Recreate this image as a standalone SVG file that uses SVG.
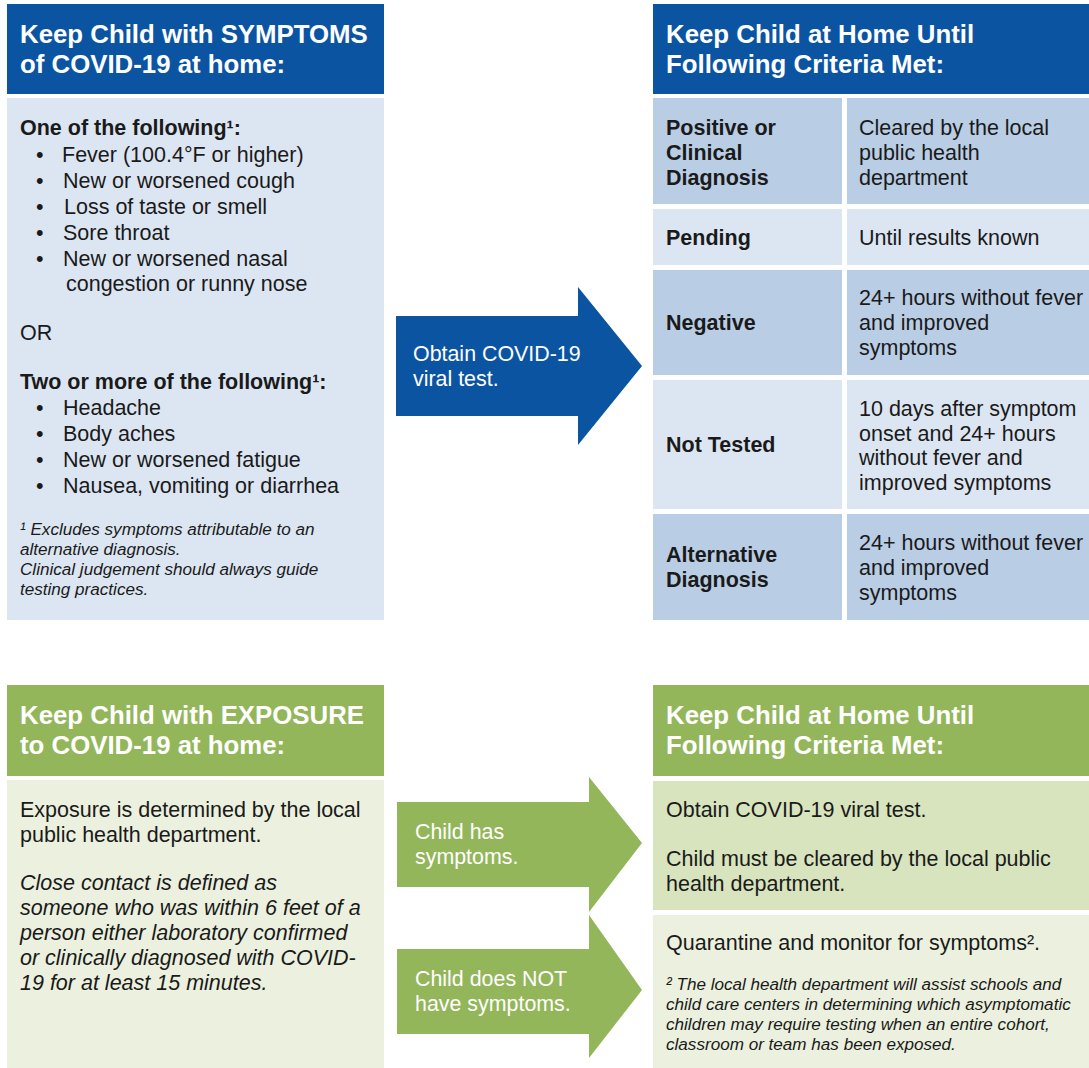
<svg xmlns="http://www.w3.org/2000/svg" width="1089" height="1068" viewBox="0 0 1089 1068">
<style>
text{font-family:"Liberation Sans",Arial,sans-serif;fill:#1a1a1a;font-size:21.5px}
.h{fill:#fff;font-weight:bold;font-size:25.8px}
.b{font-weight:bold}
.i{font-style:italic}
.fn{font-style:italic;font-size:17.1px}
.fn2{font-style:italic;font-size:17.1px}
.w{fill:#fff;font-size:21.4px}
.blue{fill:#0b54a2}
.green{fill:#93b65a}
.lb{fill:#dce6f2}
.db{fill:#b9cde5}
.lg{fill:#ebf1de}
.dg{fill:#d7e4bd}
</style>
<rect width="1089" height="1068" fill="#fff"/>

<g id="symptoms">
<rect class="blue" x="7" y="4" width="377" height="90"/>
<text class="h" x="20" y="43">Keep Child with SYMPTOMS</text>
<text class="h" x="20" y="73">of COVID-19 at home:</text>
<rect class="lb" x="7" y="98" width="377" height="522"/>
<text class="b" x="20" y="135">One of the following¹:</text>
<text x="36" y="162">•</text><text x="62" y="162">Fever (100.4°F or higher)</text>
<text x="36" y="188">•</text><text x="63" y="188">New or worsened cough</text>
<text x="36" y="214">•</text><text x="64" y="214">Loss of taste or smell</text>
<text x="36" y="240">•</text><text x="63" y="240">Sore throat</text>
<text x="36" y="266">•</text><text x="63" y="266">New or worsened nasal</text>
<text x="66" y="291">congestion or runny nose</text>
<text x="20" y="340">OR</text>
<text class="b" x="20" y="389">Two or more of the following¹:</text>
<text x="36" y="415">•</text><text x="63" y="415">Headache</text>
<text x="36" y="441">•</text><text x="63" y="441">Body aches</text>
<text x="36" y="467">•</text><text x="63" y="467">New or worsened fatigue</text>
<text x="36" y="493">•</text><text x="63" y="493">Nausea, vomiting or diarrhea</text>
<text class="fn" x="20" y="535">¹ Excludes symptoms attributable to an</text>
<text class="fn" x="20" y="555">alternative diagnosis.</text>
<text class="fn" x="20" y="575">Clinical judgement should always guide</text>
<text class="fn" x="20" y="595">testing practices.</text>
</g>

<g id="criteria-symptoms">
<rect class="blue" x="653" y="4" width="436" height="90"/>
<text class="h" x="666" y="43">Keep Child at Home Until</text>
<text class="h" x="666" y="73">Following Criteria Met:</text>
<rect class="db" x="653" y="98" width="189" height="106"/>
<rect class="db" x="847" y="98" width="242" height="106"/>
<rect class="lb" x="653" y="209" width="189" height="56"/>
<rect class="lb" x="847" y="209" width="242" height="56"/>
<rect class="db" x="653" y="270" width="189" height="105"/>
<rect class="db" x="847" y="270" width="242" height="105"/>
<rect class="lb" x="653" y="380" width="189" height="129"/>
<rect class="lb" x="847" y="380" width="242" height="129"/>
<rect class="db" x="653" y="514" width="189" height="106"/>
<rect class="db" x="847" y="514" width="242" height="106"/>
<text class="b" x="666" y="135">Positive or</text>
<text class="b" x="666" y="160">Clinical</text>
<text class="b" x="666" y="185">Diagnosis</text>
<text x="859" y="135">Cleared by the local</text>
<text x="859" y="160">public health</text>
<text x="859" y="185">department</text>
<text class="b" x="666" y="245">Pending</text>
<text x="859" y="245">Until results known</text>
<text class="b" x="666" y="330">Negative</text>
<text x="859" y="305">24+ hours without fever</text>
<text x="859" y="330">and improved</text>
<text x="859" y="355">symptoms</text>
<text class="b" x="666" y="452">Not Tested</text>
<text x="859" y="416">10 days after symptom</text>
<text x="859" y="441">onset and 24+ hours</text>
<text x="859" y="465">without fever and</text>
<text x="859" y="490">improved symptoms</text>
<text class="b" x="666" y="562">Alternative</text>
<text class="b" x="666" y="587">Diagnosis</text>
<text x="859" y="550">24+ hours without fever</text>
<text x="859" y="575">and improved</text>
<text x="859" y="600">symptoms</text>
</g>

<g id="exposure">
<rect class="green" x="7" y="685" width="377" height="91"/>
<text class="h" x="20" y="724">Keep Child with EXPOSURE</text>
<text class="h" x="20" y="754">to COVID-19 at home:</text>
<rect class="lg" x="7" y="780" width="377" height="288"/>
<text x="20" y="817">Exposure is determined by the local</text>
<text x="20" y="842">public health department.</text>
<text class="i" x="20" y="890">Close contact is defined as</text>
<text class="i" x="20" y="915">someone who was within 6 feet of a</text>
<text class="i" x="20" y="940">person either laboratory confirmed</text>
<text class="i" x="20" y="965">or clinically diagnosed with COVID-</text>
<text class="i" x="20" y="990">19 for at least 15 minutes.</text>
</g>

<g id="criteria-exposure">
<rect class="green" x="653" y="685" width="436" height="91"/>
<text class="h" x="666" y="724">Keep Child at Home Until</text>
<text class="h" x="666" y="754">Following Criteria Met:</text>
<rect class="dg" x="653" y="781" width="436" height="129"/>
<text x="666" y="817">Obtain COVID-19 viral test.</text>
<text x="666" y="866">Child must be cleared by the local public</text>
<text x="666" y="891">health department.</text>
<rect class="lg" x="653" y="915" width="436" height="153"/>
<text x="666" y="950">Quarantine and monitor for symptoms².</text>
<text class="fn2" x="666" y="990">² The local health department will assist schools and</text>
<text class="fn2" x="666" y="1010">child care centers in determining which asymptomatic</text>
<text class="fn2" x="666" y="1030">children may require testing when an entire cohort,</text>
<text class="fn2" x="666" y="1050">classroom or team has been exposed.</text>
</g>

<g id="connectors">
<g id="arrow-test">
<polygon class="blue" points="396,316 578,316 578,287 642,366 578,445 578,416 396,416"/>
<text class="w" x="413" y="361">Obtain COVID-19</text>
<text class="w" x="413" y="386">viral test.</text>
</g>
<g id="arrow-symptoms">
<polygon class="green" points="397,802 589,802 589,777 642,843 589,912 589,887 397,887"/>
<text class="w" x="415" y="839">Child has</text>
<text class="w" x="415" y="864">symptoms.</text>
</g>
<g id="arrow-nosymptoms">
<polygon class="green" points="397,949 589,949 589,915 642,990 589,1058 589,1034 397,1034"/>
<text class="w" x="415" y="986">Child does NOT</text>
<text class="w" x="415" y="1011">have symptoms.</text>
</g>
</g>
</svg>
